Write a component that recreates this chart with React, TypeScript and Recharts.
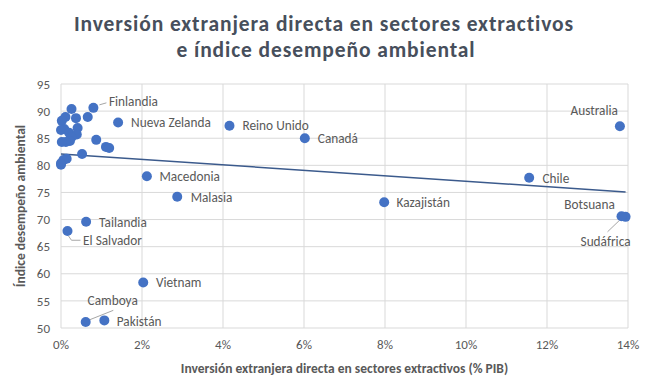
import React from "react";
import {
  ScatterChart,
  Scatter,
  XAxis,
  YAxis,
  CartesianGrid,
  ReferenceLine,
  Label,
} from "recharts";

if (typeof document !== "undefined") document.body.style.margin = "0";

// countries (empty name = unlabelled point)
const countries = [
  "Finlandia", "Nueva Zelanda", "Reino Unido", "Canadá", "Australia",
  "Macedonia", "Malasia", "Chile", "Kazajistán", "Botsuana", "Sudáfrica",
  "Tailandia", "El Salvador", "Vietnam", "Camboya", "Pakistán",
  "", "", "", "", "", "", "", "", "", "", "", "", "", "", "", "", "", "", "", "", "", "",
];
// IED en sectores extractivos (% PIB)
const fdi = [
  0.8, 1.41, 4.16, 6.02, 13.8,
  2.12, 2.87, 11.56, 7.98, 13.94, 13.84,
  0.62, 0.16, 2.03, 0.61, 1.07,
  0.26, 0.66, 0.37, 0.11, 0.02, 0.41, 0.08, 0.0, 0.2, 0.39, 0.26, 0.22, 0.12, 0.02, 0.87,
  1.11, 1.19, 0.52, 0.14, 0.06, 0.0, 0.0,
];
// índice de desempeño ambiental
const epi = [
  90.6, 87.9, 87.3, 85.0, 87.2,
  78.0, 74.2, 77.7, 73.2, 70.5, 70.6,
  69.6, 67.9, 58.4, 51.1, 51.4,
  90.4, 88.9, 88.7, 88.9, 88.2, 86.9, 86.7, 86.5, 86.0, 85.7, 85.2, 84.5, 84.3, 84.3, 84.7,
  83.4, 83.2, 82.1, 81.2, 81.0, 80.4, 80.1,
];
// linear trend end points
const trendX = [0, 13.94];
const trendY = [82.1, 75.1];

const xTicks = [0, 2, 4, 6, 8, 10, 12, 14];
const yTicks = [50, 55, 60, 65, 70, 75, 80, 85, 90, 95];

const titleLines = [
  "Inversión extranjera directa en sectores extractivos",
  "e índice desempeño ambiental",
];

const points = countries.map((name, i) => ({ name, x: fdi[i], y: epi[i] }));

const FONT = "Carlito, Calibri, Lato, sans-serif";
const GREY = "#595959";

// where each data label sits relative to its point
type Spot = { dx: number; dy: number; anchor?: "start" | "middle" | "end"; leader?: number[][] };
const spots: Record<string, Spot> = {
  Finlandia: { dx: 15.5, dy: -6.5, leader: [[6, -3], [13, -5]] },
  "Nueva Zelanda": { dx: 13, dy: 0.5 },
  "Reino Unido": { dx: 13, dy: 0 },
  "Canadá": { dx: 13, dy: 0.6 },
  Australia: { dx: -2, dy: -15.6, anchor: "end" },
  Macedonia: { dx: 12.6, dy: 0.7 },
  Malasia: { dx: 13.4, dy: 0.6 },
  Chile: { dx: 13.3, dy: 0.7 },
  "Kazajistán": { dx: 12.3, dy: 0.7 },
  Botsuana: { dx: -10.7, dy: -12.7, anchor: "end" },
  "Sudáfrica": { dx: -16, dy: 25.5, anchor: "middle", leader: [[-2, 4], [-14, 15.5]] },
  Tailandia: { dx: 13, dy: 1 },
  "El Salvador": { dx: 15.6, dy: 9.3, leader: [[1, 5], [4, 9.3], [13, 9.3]] },
  Vietnam: { dx: 12.7, dy: 0.4 },
  Camboya: { dx: 27, dy: -21.7, anchor: "middle", leader: [[4.3, -2.4], [27.6, -11.7]] },
  "Pakistán": { dx: 12.4, dy: 0.7 },
};

const Dot = (props: any) => {
  const { cx, cy, payload } = props;
  const s = payload.name ? spots[payload.name] : undefined;
  return (
    <g>
      {s && s.leader && (
        <polyline
          points={s.leader.map((p) => `${cx + p[0]},${cy + p[1]}`).join(" ")}
          fill="none"
          stroke="#a6a6a6"
          strokeWidth={1}
        />
      )}
      <circle cx={cx} cy={cy} r={5} fill="#4472C4" />
      {s && (
        <text
          x={cx + s.dx}
          y={cy + s.dy + 4.5}
          textAnchor={s.anchor || "start"}
          fontSize={13.3}
          fontFamily={FONT}
          fill={GREY}
        >
          {payload.name}
        </text>
      )}
    </g>
  );
};

export default function App() {
  return (
    <div style={{ position: "relative", width: 650, height: 383, background: "#fff" }}>
      <svg width={650} height={70} style={{ position: "absolute", top: 0, left: 0 }}>
        <text
          x={324}
          y={31}
          textAnchor="middle"
          fontFamily={FONT}
          fontWeight="bold"
          fontSize={21.5}
          letterSpacing={0.9}
          fill="#474f5c"
        >
          {titleLines[0]}
        </text>
        <text
          x={326}
          y={57}
          textAnchor="middle"
          fontFamily={FONT}
          fontWeight="bold"
          fontSize={21.5}
          letterSpacing={0.9}
          fill="#474f5c"
        >
          {titleLines[1]}
        </text>
      </svg>
      <ScatterChart width={650} height={383} margin={{ top: 84, right: 22, left: 0, bottom: 0 }}>
        <CartesianGrid stroke="#d9d9d9" />
        <XAxis
          type="number"
          dataKey="x"
          domain={[0, 14]}
          ticks={xTicks}
          tickFormatter={(v) => `${v}%`}
          axisLine={false}
          tickLine={false}
          tickSize={0}
          tickMargin={12}
          height={55}
          tick={{ fontSize: 13, fill: GREY, fontFamily: FONT }}
        >
          <Label
            content={({ viewBox }: any) => (
              <text
                x={viewBox.x + viewBox.width / 2}
                y={368 + 4.5}
                textAnchor="middle"
                fontSize={13.5}
                fontWeight="bold"
                fontFamily={FONT}
                fill={GREY}
              >
                Inversión extranjera directa en sectores extractivos (% PIB)
              </text>
            )}
          />
        </XAxis>
        <YAxis
          type="number"
          dataKey="y"
          domain={[50, 95]}
          ticks={yTicks}
          axisLine={false}
          tickLine={false}
          tickSize={0}
          tickMargin={11}
          width={61}
          tick={{ fontSize: 13, fill: GREY, fontFamily: FONT }}
        >
          <Label
            content={({ viewBox }: any) => {
              const cy = viewBox.y + viewBox.height / 2;
              return (
                <text
                  x={20}
                  y={cy}
                  transform={`rotate(-90 20 ${cy})`}
                  textAnchor="middle"
                  dominantBaseline="central"
                  fontSize={13.5}
                  fontWeight="bold"
                  fontFamily={FONT}
                  fill={GREY}
                >
                  Índice desempeño ambiental
                </text>
              );
            }}
          />
        </YAxis>
        <ReferenceLine
          segment={[
            { x: trendX[0], y: trendY[0] },
            { x: trendX[1], y: trendY[1] },
          ]}
          stroke="#3b5a8c"
          strokeWidth={1.5}
        />
        <Scatter data={points} shape={<Dot />} isAnimationActive={false} />
      </ScatterChart>
    </div>
  );
}
